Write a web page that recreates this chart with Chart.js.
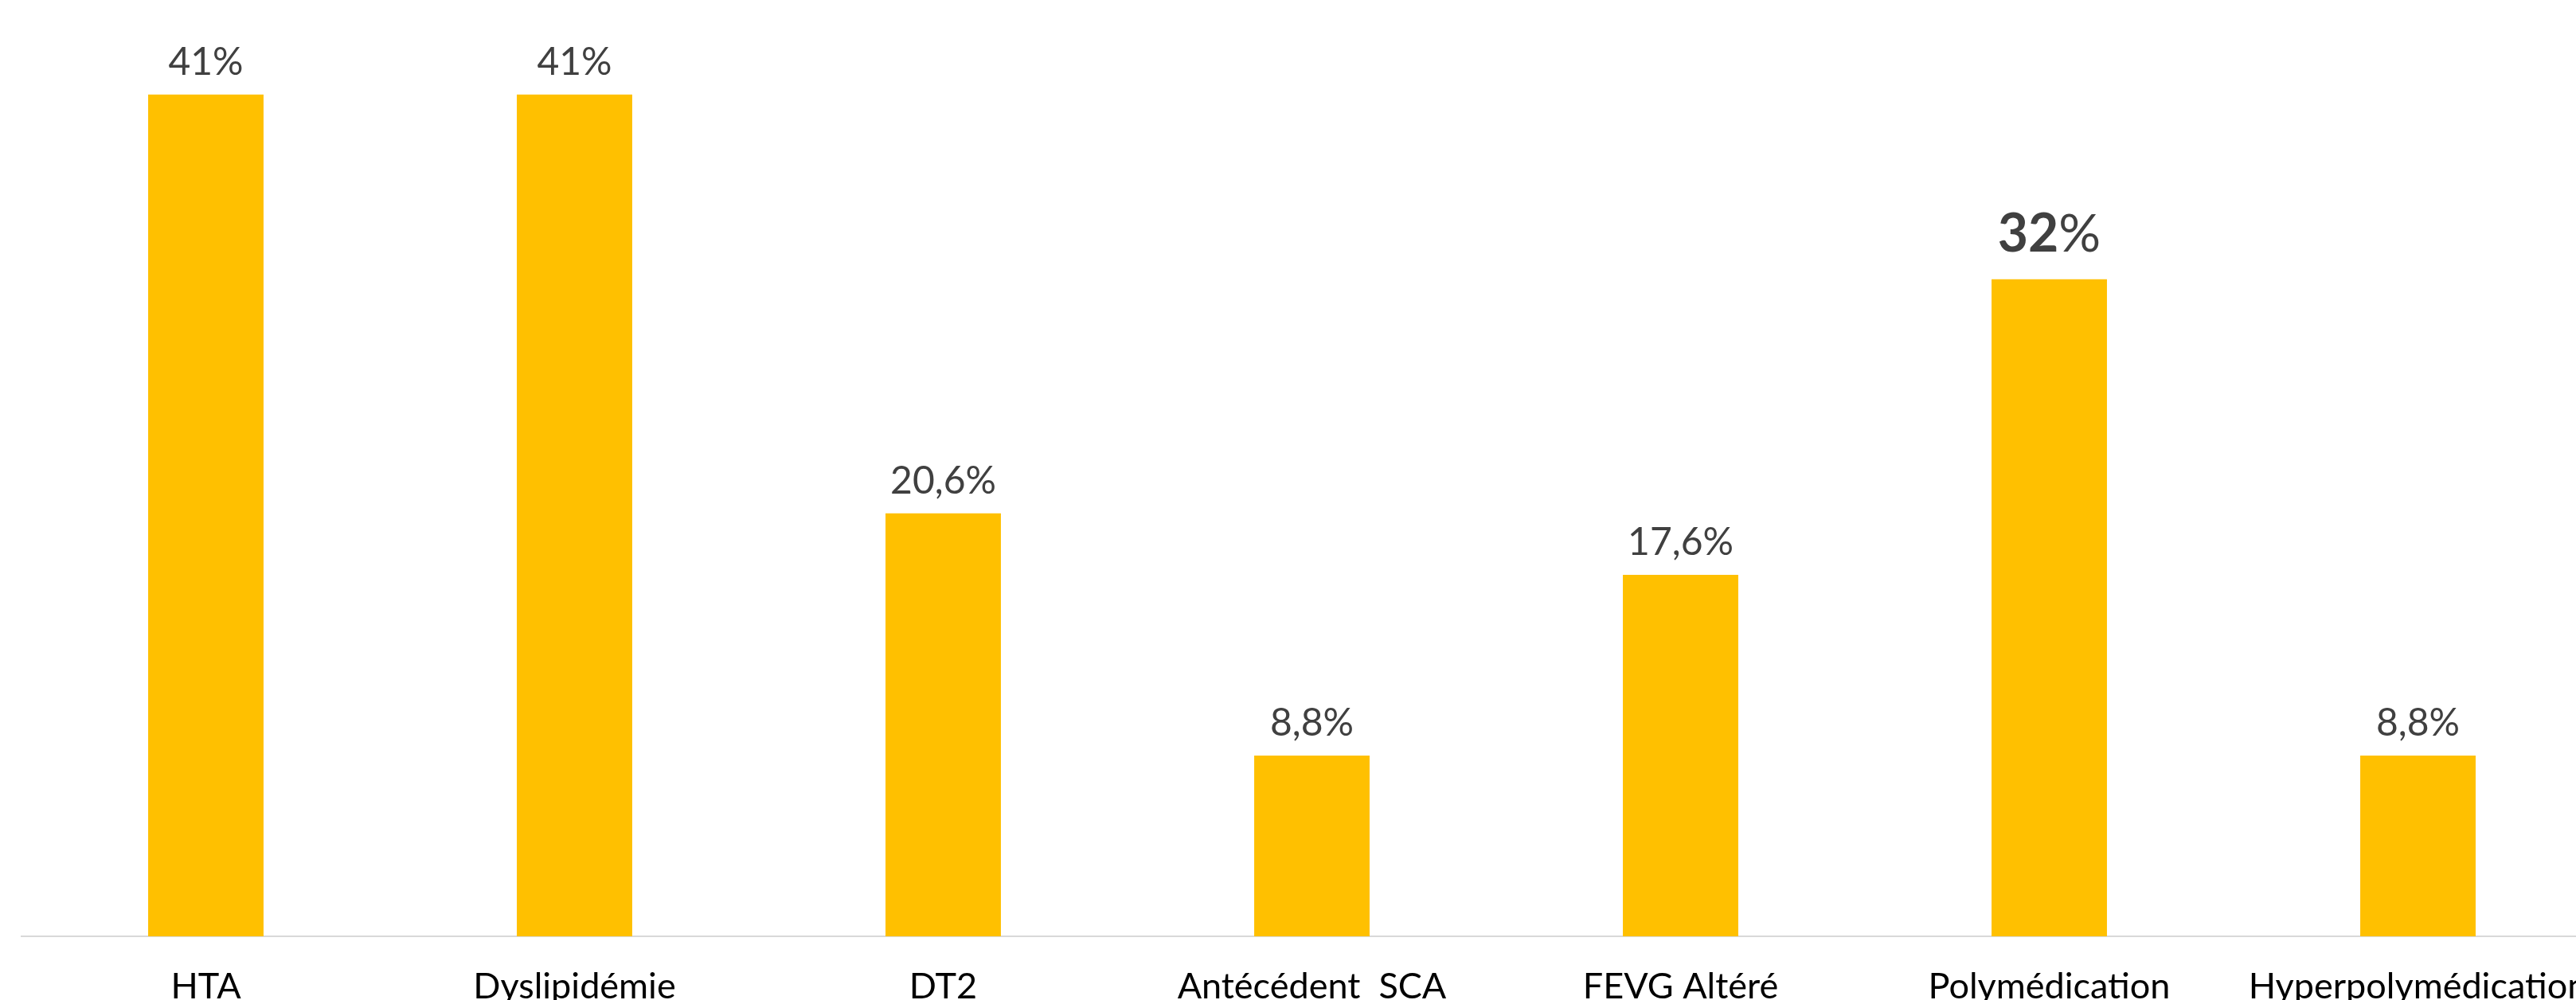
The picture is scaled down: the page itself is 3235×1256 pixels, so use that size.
<!DOCTYPE html>
<html>
<head>
<meta charset="utf-8">
<script src="https://cdn.jsdelivr.net/npm/chart.js@4.4.1/dist/chart.umd.min.js"></script>
<style>
  html, body { margin: 0; padding: 0; background: #fff; overflow: hidden; }
  #wrap { position: relative; width: 3268px; height: 1256px; }
</style>
</head>
<body>
<div id="wrap"><canvas id="barChart" width="3268" height="1256"></canvas></div>
<script>
// Chart data
const categories = ["HTA", "Dyslipidémie", "DT2", "Antécédent  SCA", "FEVG Altéré", "Polymédication", "Hyperpolymédication"];
const values = [41, 41, 20.6, 8.8, 17.6, 32, 8.8];
const highlighted = [false, false, false, false, false, true, false];

const FONT = "Lato, 'Open Sans', sans-serif";

// value labels above the bars
const valueLabels = {
  id: 'valueLabels',
  afterDatasetsDraw(chart) {
    const ctx = chart.ctx;
    const meta = chart.getDatasetMeta(0);
    ctx.save();
    ctx.fillStyle = '#404040';
    ctx.textBaseline = 'alphabetic';
    meta.data.forEach((bar, i) => {
      const num = String(values[i]).replace('.', ',');
      if (highlighted[i]) {
        ctx.font = 'bold 66px ' + FONT;
        const w1 = ctx.measureText(num).width;
        ctx.font = '66px ' + FONT;
        const w2 = ctx.measureText('%').width;
        let x = bar.x - (w1 + w2) / 2;
        const y = bar.y - 35;
        ctx.textAlign = 'left';
        ctx.font = 'bold 66px ' + FONT;
        ctx.fillText(num, x, y);
        ctx.font = '66px ' + FONT;
        ctx.fillText('%', x + w1, y);
      } else {
        ctx.font = '48px ' + FONT;
        ctx.textAlign = 'center';
        ctx.fillText(num + '%', bar.x, bar.y - 25);
      }
    });
    ctx.restore();
  }
};

const ctxBar = document.getElementById('barChart').getContext('2d');
const barChart = new Chart(ctxBar, {
  type: 'bar',
  data: {
    labels: categories,
    datasets: [{ data: values, backgroundColor: '#FFC000', barPercentage: 0.313, categoryPercentage: 1 }]
  },
  options: {
    responsive: false,
    animation: false,
    layout: { padding: { left: 27, right: 0, top: 0, bottom: 0 } },
    plugins: { legend: { display: false }, tooltip: { enabled: false } },
    scales: {
      x: {
        grid: { display: false, drawTicks: false },
        border: { display: true, color: '#d9d9d9', width: 2 },
        ticks: {
          color: '#000',
          font: { family: FONT, size: 45 },
          padding: 36,
          autoSkip: false,
          maxRotation: 0
        },
        afterFit(scale) {
          scale.height = 80;
          scale.paddingLeft = 0;
          scale.paddingRight = 0;
        }
      },
      y: { display: false, min: 0, max: 45.6 }
    }
  },
  plugins: [valueLabels]
});
</script>
</body>
</html>
